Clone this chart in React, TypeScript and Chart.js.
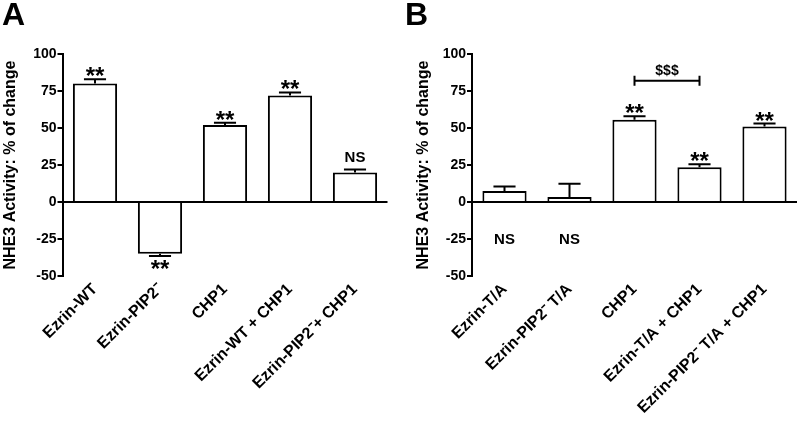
import React, { useEffect, useRef } from "react";
import { Chart, registerables } from "chart.js";

Chart.register(...registerables);

const FONT = "'Liberation Sans', Arial, Helvetica, sans-serif";

// Panel A
const categoriesA = ["Ezrin-WT", "Ezrin-PIP2\u207B", "CHP1", "Ezrin-WT + CHP1", "Ezrin-PIP2\u207B+ CHP1"];
const valuesA = [80, -35, 52, 72, 20];
const errorsA = [3, 1.5, 1.5, 2, 2];
const marksA = ["**", "**", "**", "**", "NS"];
const markValuesA: (number | null)[] = [null, null, null, null, null];

// Panel B
const categoriesB = ["Ezrin-T/A", "Ezrin-PIP2\u207B T/A", "CHP1", "Ezrin-T/A + CHP1", "Ezrin-PIP2\u207B T/A + CHP1"];
const valuesB = [7.5, 3.4, 55.5, 23.5, 51];
const errorsB = [3, 9, 2.5, 2, 2];
const marksB = ["NS", "NS", "**", "**", "**"];
const markValuesB: (number | null)[] = [-25, -25, null, null, null];
const bracketB = { from: 2, to: 3, value: 82, label: "$$$" };

const yMin = -50;
const yMax = 100;
const yStep = 25;
const yTitle = "NHE3 Activity: % of change";

type PanelProps = {
  letter: string;
  categories: string[];
  values: number[];
  errors: number[];
  marks: string[];
  markValues: (number | null)[];
  bracket?: { from: number; to: number; value: number; label: string } | null;
  axisWidth: number;
  rightPad: number;
  letterX: number;
  titlePad: number;
};

function makePlugin(p: PanelProps) {
  return {
    id: "annot" + p.letter,
    afterDatasetsDraw(chart: any) {
      const ctx = chart.ctx as CanvasRenderingContext2D;
      const y = chart.scales.y;
      const meta = chart.getDatasetMeta(0);
      ctx.save();
      ctx.strokeStyle = "#000";
      ctx.fillStyle = "#000";
      ctx.lineWidth = 2;
      p.values.forEach((v, i) => {
        const bar = meta.data[i];
        const cx = bar.x;
        const w = bar.width;
        const end = v >= 0 ? v + p.errors[i] : v - p.errors[i];
        const py0 = y.getPixelForValue(v);
        const py1 = y.getPixelForValue(end);
        ctx.beginPath();
        ctx.moveTo(cx, py0);
        ctx.lineTo(cx, py1);
        ctx.moveTo(cx - w / 4, py1);
        ctx.lineTo(cx + w / 4, py1);
        ctx.stroke();

        const mark = p.marks[i];
        if (!mark) return;
        const isStar = mark.startsWith("*");
        ctx.font = isStar ? `bold 24px ${FONT}` : `bold 15px ${FONT}`;
        ctx.textAlign = "center";
        ctx.textBaseline = "alphabetic";
        const m = ctx.measureText(mark);
        const a = m.actualBoundingBoxAscent;
        const d = m.actualBoundingBoxDescent;
        const mv = p.markValues[i];
        let base: number;
        if (mv !== null && mv !== undefined) {
          const py = y.getPixelForValue(mv);
          base = py - (d - a) / 2;
        } else if (v >= 0) {
          base = py1 - (isStar ? 3 : 7) - d;
        } else {
          base = py1 + 4 + a;
        }
        ctx.fillText(mark, cx, base);
      });

      if (p.bracket) {
        const b = p.bracket;
        const x1 = meta.data[b.from].x;
        const x2 = meta.data[b.to].x;
        const py = y.getPixelForValue(b.value);
        ctx.beginPath();
        ctx.moveTo(x1, py);
        ctx.lineTo(x2, py);
        ctx.moveTo(x1, py - 5);
        ctx.lineTo(x1, py + 5);
        ctx.moveTo(x2, py - 5);
        ctx.lineTo(x2, py + 5);
        ctx.stroke();
        ctx.font = `bold 14px ${FONT}`;
        ctx.textAlign = "center";
        ctx.textBaseline = "alphabetic";
        const m = ctx.measureText(b.label);
        ctx.fillText(b.label, (x1 + x2) / 2, py - 4 - m.actualBoundingBoxDescent);
      }

      ctx.font = `bold 32px ${FONT}`;
      ctx.textAlign = "left";
      ctx.textBaseline = "alphabetic";
      ctx.fillText(p.letter, p.letterX, 25);
      ctx.restore();
    },
  };
}

function Panel(p: PanelProps) {
  const ref = useRef<HTMLCanvasElement>(null);
  useEffect(() => {
    if (!ref.current) return;
    const chart = new Chart(ref.current, {
      type: "bar",
      data: {
        labels: p.categories,
        datasets: [
          {
            data: p.values,
            backgroundColor: "#ffffff",
            borderColor: "#000000",
            borderWidth: 2,
            borderSkipped: "start",
            categoryPercentage: 1,
            barPercentage: 0.68,
          },
        ],
      },
      options: {
        animation: false,
        responsive: false,
        devicePixelRatio: 1,
        layout: { padding: { top: 54, right: p.rightPad, left: 0, bottom: 0 } },
        plugins: { legend: { display: false }, tooltip: { enabled: false } },
        scales: {
          x: {
            grid: { display: false, drawTicks: false },
            border: { display: false },
            ticks: {
              autoSkip: false,
              maxRotation: 45,
              minRotation: 45,
              padding: 4,
              color: "#000",
              font: { family: FONT, size: 16, weight: "bold" },
            },
            afterFit: (s: any) => {
              s.height = 421 - 276;
            },
          },
          y: {
            min: yMin,
            max: yMax,
            ticks: {
              stepSize: yStep,
              padding: 1,
              color: "#000",
              font: { family: FONT, size: 14, weight: "bold" },
            },
            grid: {
              z: 1,
              lineWidth: 2,
              tickLength: 5,
              tickColor: "#000",
              color: (c: any) => (c.tick && c.tick.value === 0 ? "#000" : "rgba(0,0,0,0)"),
            },
            border: { display: true, color: "#000", width: 2, z: 2 },
            title: {
              display: true,
              text: yTitle,
              color: "#000",
              font: { family: FONT, size: 16, weight: "bold" },
              padding: { top: p.titlePad, bottom: 0 },
            },
            afterFit: (s: any) => {
              s.width = p.axisWidth;
            },
          },
        },
      },
      plugins: [makePlugin(p)],
    } as any);
    return () => chart.destroy();
  }, []);
  return <canvas ref={ref} width={400} height={421} style={{ display: "block" }} />;
}

export default function App() {
  return (
    <div style={{ position: "absolute", left: 0, top: 0, width: 800, height: 421, background: "#fff" }}>
      <div style={{ position: "absolute", left: 0, top: 0, width: 400, height: 421 }}>
        <Panel
          letter="A"
          categories={categoriesA}
          values={valuesA}
          errors={errorsA}
          marks={marksA}
          markValues={markValuesA}
          bracket={null}
          axisWidth={62.5}
          rightPad={12.5}
          letterX={2}
          titlePad={1}
        />
      </div>
      <div style={{ position: "absolute", left: 400, top: 0, width: 400, height: 421 }}>
        <Panel
          letter="B"
          categories={categoriesB}
          values={valuesB}
          errors={errorsB}
          marks={marksB}
          markValues={markValuesB}
          bracket={bracketB}
          axisWidth={72}
          rightPad={3}
          letterX={5}
          titlePad={14}
        />
      </div>
    </div>
  );
}
